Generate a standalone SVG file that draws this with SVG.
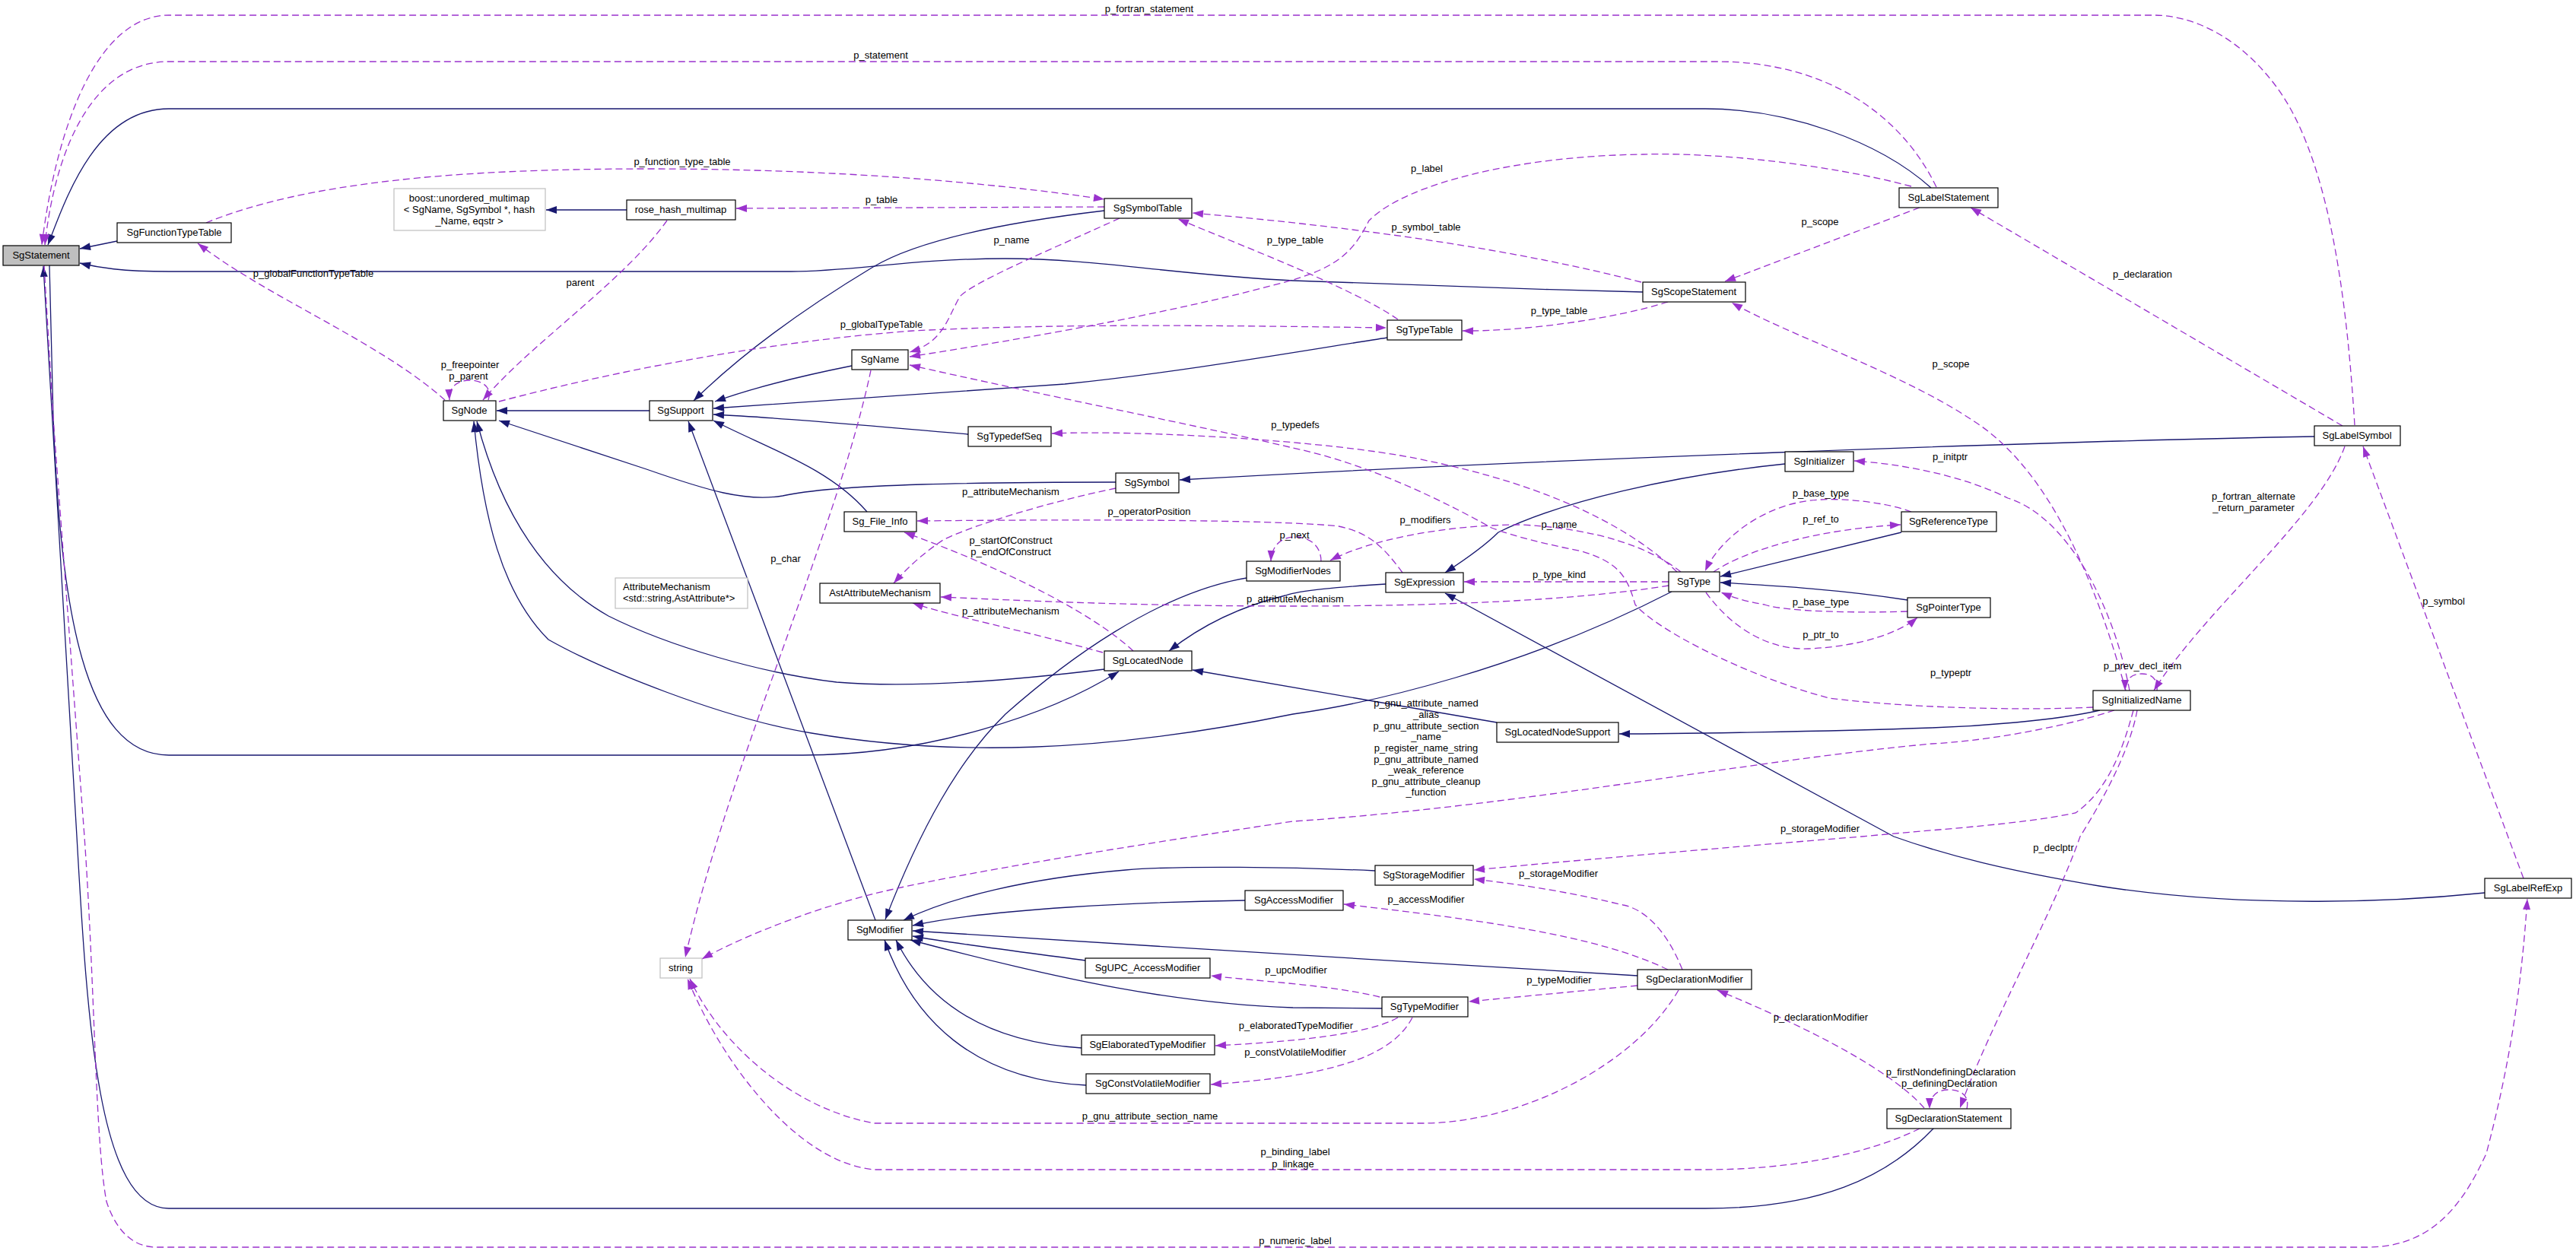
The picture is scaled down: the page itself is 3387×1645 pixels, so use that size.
<svg xmlns="http://www.w3.org/2000/svg" width="3387" height="1645" viewBox="0 0 3387 1645">
<style>
text{font-family:"Liberation Sans",Arial,Helvetica,sans-serif;font-size:13px;fill:#000}
.n rect{fill:#fff;stroke:#000;stroke-width:1.2}
.n.g rect{stroke:#bfbfbf}
.n.s rect{fill:#bfbfbf}
.n text,.l{text-anchor:middle}
.e{fill:none;stroke:#191970;stroke-width:1.3;marker-end:url(#ab)}
.d{fill:none;stroke:#9a32cd;stroke-width:1.3;stroke-dasharray:9,5;marker-end:url(#ap)}
</style>
<defs>
<marker id="ab" markerUnits="userSpaceOnUse" markerWidth="16" markerHeight="12" refX="14" refY="5" orient="auto" overflow="visible"><path d="M0,0 L14,5 L0,10 z" fill="#191970"/></marker>
<marker id="ap" markerUnits="userSpaceOnUse" markerWidth="16" markerHeight="12" refX="14" refY="5" orient="auto" overflow="visible"><path d="M0,0 L14,5 L0,10 z" fill="#9a32cd"/></marker>
</defs>
<rect width="3387" height="1645" fill="#fff"/>
<g id="connectors">
<path class="e" d="M154,317 L105,327"/>
<path class="e" d="M2539,247 C2470,185 2350,143 2242,143 L222,143 C130,143 90,250 63,322"/>
<path class="e" d="M2160,384 C2000,380 1820,374 1700,369 C1550,362 1440,340 1322,340 C1200,340 1120,357 1040,357 L222,357 C160,357 130,352 105,346"/>
<path class="e" d="M2543,1483 C2480,1550 2390,1589 2242,1589 L222,1589 C130,1589 115,1350 101,1100 L57,350"/>
<path class="e" d="M65,349 L70,550 C80,800 110,993 222,993 L1056,993 C1220,993 1380,940 1471,883"/>
<path class="e" d="M2198,778 C2000,880 1800,925 1700,939 C1450,990 1250,995 1067,964 C950,945 790,880 721,841 C660,780 635,680 623,554"/>
<path class="e" d="M1452,880 C1330,895 1200,905 1100,897 C1000,885 880,850 800,810 C720,765 660,680 627,554"/>
<path class="e" d="M1467,634 C1300,634 1100,636 1029,652 C980,660 930,645 850,617 L656,553"/>
<path class="e" d="M854,540 L653,540"/>
<path class="e" d="M1452,277 C1300,295 1200,320 1148,351 C1050,410 970,470 912,527"/>
<path class="e" d="M1120,481 C1050,495 990,510 940,528"/>
<path class="e" d="M1824,444 C1720,460 1550,490 1400,505 L938,537"/>
<path class="e" d="M1273,571 C1150,560 1000,548 938,545"/>
<path class="e" d="M1140,673 C1090,615 1010,590 938,553"/>
<path class="e" d="M1151,1210 L905,554"/>
<path class="e" d="M824,276 L718,276"/>
<path class="e" d="M3043,574 C2700,580 2000,605 1551,631"/>
<path class="e" d="M2347,610 C2200,625 2050,660 1970,700 C1950,720 1920,740 1900,753"/>
<path class="e" d="M3267,1174 C3150,1186 2950,1195 2760,1165 C2640,1145 2560,1125 2490,1100 L1900,780"/>
<path class="e" d="M2500,700 L2262,758"/>
<path class="e" d="M2508,789 C2420,775 2330,770 2262,766"/>
<path class="e" d="M2761,934 C2700,948 2600,955 2540,957 C2400,962 2200,965 2129,965"/>
<path class="e" d="M1968,950 L1568,881"/>
<path class="e" d="M1822,768 C1760,772 1710,776 1690,783 C1620,800 1570,830 1537,856"/>
<path class="e" d="M1639,760 C1520,780 1400,870 1322,939 C1260,1000 1210,1090 1164,1209"/>
<path class="e" d="M1808,1145 C1700,1140 1550,1138 1480,1144 C1350,1155 1250,1180 1188,1210"/>
<path class="e" d="M1637,1184 C1500,1186 1300,1195 1200,1217"/>
<path class="e" d="M2153,1283 C1900,1268 1500,1243 1200,1224"/>
<path class="e" d="M1427,1263 C1330,1250 1250,1240 1200,1231"/>
<path class="e" d="M1817,1326 L1700,1325 C1550,1320 1400,1290 1197,1236"/>
<path class="e" d="M1422,1378 C1300,1370 1220,1320 1178,1236"/>
<path class="e" d="M1428,1427 C1280,1420 1200,1340 1163,1236"/>
<path class="d" d="M3096,559 C3085,380 3060,200 2990,110 C2940,45 2880,20 2832,20 L222,20 C130,20 75,160 55,322"/>
<path class="d" d="M2546,246 C2500,150 2400,81 2258,81 L222,81 C120,81 72,200 59,322"/>
<path class="d" d="M58,349 L70,550 L111,1100 C125,1300 125,1500 140,1580 C155,1625 180,1640 206,1640 L3113,1640 C3200,1640 3240,1580 3269,1517 C3300,1400 3315,1300 3323,1182"/>
<path class="d" d="M271,293 C400,240 600,222 850,222 C1100,222 1300,240 1452,262"/>
<path class="d" d="M1452,272 L968,274"/>
<path class="d" d="M877,290 C820,370 700,450 635,526"/>
<path class="d" d="M585,526 C500,450 350,390 260,320"/>
<path class="d" d="M642,526 C648,508 632,500 618,500 C602,500 590,508 591,526"/>
<path class="d" d="M656,528 C800,490 1000,450 1200,435 C1400,425 1600,428 1823,431"/>
<path class="d" d="M1472,287 C1400,320 1280,370 1262,390 C1245,420 1240,450 1196,463"/>
<path class="d" d="M1838,420 C1780,380 1650,330 1549,288"/>
<path class="d" d="M2158,371 C2000,330 1800,300 1568,280"/>
<path class="d" d="M2513,245 C2400,215 2250,200 2160,203 C2000,205 1850,240 1800,290 C1780,330 1760,350 1700,368 C1550,410 1350,445 1196,469"/>
<path class="d" d="M2524,273 L2268,370"/>
<path class="d" d="M2193,397 C2120,420 2000,436 1923,435"/>
<path class="d" d="M2795,908 C2760,780 2700,620 2594,553 C2500,490 2350,440 2277,398"/>
<path class="d" d="M2800,908 C2780,800 2720,680 2640,655 C2580,625 2500,610 2438,606"/>
<path class="d" d="M3083,587 C3050,680 2900,800 2832,908"/>
<path class="d" d="M2836,908 C2838,892 2828,886 2816,886 C2802,886 2794,894 2794,908"/>
<path class="d" d="M2205,752 C2150,700 2050,640 1863,603 C1750,580 1500,565 1383,570"/>
<path class="d" d="M2752,930 C2650,935 2500,930 2405,918 C2300,890 2180,830 2150,795 C2140,760 2130,740 2080,725 C2030,715 1990,705 1961,694 C1900,660 1800,610 1700,589 C1600,565 1350,515 1196,480"/>
<path class="d" d="M2210,752 C2170,720 2100,695 2000,690 C1900,690 1800,710 1749,737"/>
<path class="d" d="M1737,738 C1737,718 1722,706 1703,706 C1686,706 1672,716 1671,738"/>
<path class="d" d="M1844,753 C1820,720 1800,700 1760,692 C1700,685 1500,682 1206,685"/>
<path class="d" d="M2194,765 L1925,765"/>
<path class="d" d="M2194,770 C2100,785 1950,797 1700,797 C1500,797 1350,790 1237,785"/>
<path class="d" d="M1467,642 C1380,660 1280,690 1240,710 C1210,730 1190,750 1175,767"/>
<path class="d" d="M1450,858 C1350,830 1250,810 1200,793"/>
<path class="d" d="M1490,856 C1430,800 1300,740 1189,700"/>
<path class="d" d="M1145,487 C1100,700 960,1000 901,1259"/>
<path class="d" d="M2780,934 C2700,960 2600,975 2540,978 C2300,1000 2000,1060 1700,1080 C1500,1110 1250,1150 1150,1175 C1050,1200 960,1240 923,1261"/>
<path class="d" d="M2805,934 C2790,990 2770,1040 2729,1069 C2650,1085 2550,1090 2448,1100 C2200,1120 2000,1138 1938,1144"/>
<path class="d" d="M2810,934 C2800,990 2760,1060 2735,1100 C2700,1200 2620,1340 2577,1457"/>
<path class="d" d="M2586,1458 C2590,1440 2578,1433 2562,1433 C2546,1433 2537,1442 2537,1458"/>
<path class="d" d="M2530,1457 C2480,1400 2350,1340 2258,1302"/>
<path class="d" d="M2212,1275 C2190,1220 2160,1195 2134,1190 C2050,1170 1990,1162 1938,1156"/>
<path class="d" d="M2193,1275 C2100,1230 1950,1210 1767,1189"/>
<path class="d" d="M2153,1296 L1931,1317"/>
<path class="d" d="M1814,1311 C1750,1295 1650,1290 1592,1283"/>
<path class="d" d="M1838,1338 C1800,1360 1700,1370 1598,1375"/>
<path class="d" d="M1857,1338 C1830,1390 1750,1415 1592,1426"/>
<path class="d" d="M2207,1302 C2150,1400 2000,1477 1870,1477 L1150,1477 C1050,1460 950,1380 907,1287"/>
<path class="d" d="M2524,1484 C2450,1520 2350,1538 2242,1538 L1150,1538 C1050,1530 950,1400 904,1287"/>
<path class="d" d="M2513,673 C2480,660 2420,655 2394,657 C2320,660 2260,710 2242,751"/>
<path class="d" d="M2253,752 C2300,720 2400,695 2499,690"/>
<path class="d" d="M2508,804 C2450,806 2350,805 2320,795 C2290,790 2275,784 2263,779"/>
<path class="d" d="M2243,779 C2280,830 2330,855 2378,853 C2450,850 2500,830 2521,812"/>
<path class="d" d="M3080,560 L2591,273"/>
<path class="d" d="M3318,1155 L3107,587"/>
</g>
<g id="labels">
<text class="l" x="1511" y="16">p_fortran_statement</text>
<text class="l" x="1158" y="77">p_statement</text>
<text class="l" x="897" y="217">p_function_type_table</text>
<text class="l" x="1159" y="267">p_table</text>
<text class="l" x="1330" y="320">p_name</text>
<text class="l" x="1703" y="320">p_type_table</text>
<text class="l" x="1876" y="226">p_label</text>
<text class="l" x="1875" y="303">p_symbol_table</text>
<text class="l" x="2393" y="296">p_scope</text>
<text class="l" x="2050" y="413">p_type_table</text>
<text class="l" x="1159" y="431">p_globalTypeTable</text>
<text class="l" x="412" y="364">p_globalFunctionTypeTable</text>
<text class="l" x="763" y="376">parent</text>
<text class="l" x="618" y="484">p_freepointer</text>
<text class="l" x="616" y="499">p_parent</text>
<text class="l" x="2817" y="365">p_declaration</text>
<text class="l" x="2565" y="483">p_scope</text>
<text class="l" x="1703" y="563">p_typedefs</text>
<text class="l" x="2564" y="605">p_initptr</text>
<text class="l" x="1329" y="651">p_attributeMechanism</text>
<text class="l" x="1511" y="677">p_operatorPosition</text>
<text class="l" x="2394" y="653">p_base_type</text>
<text class="l" x="2963" y="657">p_fortran_alternate</text>
<text class="l" x="2963" y="672">_return_parameter</text>
<text class="l" x="2394" y="687">p_ref_to</text>
<text class="l" x="1874" y="688">p_modifiers</text>
<text class="l" x="2050" y="694">p_name</text>
<text class="l" x="1702" y="708">p_next</text>
<text class="l" x="1329" y="715">p_startOfConstruct</text>
<text class="l" x="1329" y="730">p_endOfConstruct</text>
<text class="l" x="1033" y="739">p_char</text>
<text class="l" x="2050" y="760">p_type_kind</text>
<text class="l" x="1703" y="792">p_attributeMechanism</text>
<text class="l" x="2394" y="796">p_base_type</text>
<text class="l" x="3213" y="795">p_symbol</text>
<text class="l" x="1329" y="808">p_attributeMechanism</text>
<text class="l" x="2394" y="839">p_ptr_to</text>
<text class="l" x="2817" y="880">p_prev_decl_item</text>
<text class="l" x="2565" y="889">p_typeptr</text>
<text class="l" x="1875" y="929">p_gnu_attribute_named</text>
<text class="l" x="1875" y="944">_alias</text>
<text class="l" x="1875" y="959">p_gnu_attribute_section</text>
<text class="l" x="1875" y="973">_name</text>
<text class="l" x="1875" y="988">p_register_name_string</text>
<text class="l" x="1875" y="1003">p_gnu_attribute_named</text>
<text class="l" x="1875" y="1017">_weak_reference</text>
<text class="l" x="1875" y="1032">p_gnu_attribute_cleanup</text>
<text class="l" x="1875" y="1046">_function</text>
<text class="l" x="2393" y="1094">p_storageModifier</text>
<text class="l" x="2700" y="1119">p_declptr</text>
<text class="l" x="2049" y="1153">p_storageModifier</text>
<text class="l" x="1875" y="1187">p_accessModifier</text>
<text class="l" x="1704" y="1280">p_upcModifier</text>
<text class="l" x="2050" y="1293">p_typeModifier</text>
<text class="l" x="2394" y="1342">p_declarationModifier</text>
<text class="l" x="1704" y="1353">p_elaboratedTypeModifier</text>
<text class="l" x="1703" y="1388">p_constVolatileModifier</text>
<text class="l" x="2565" y="1414">p_firstNondefiningDeclaration</text>
<text class="l" x="2563" y="1429">p_definingDeclaration</text>
<text class="l" x="1512" y="1472">p_gnu_attribute_section_name</text>
<text class="l" x="1703" y="1519">p_binding_label</text>
<text class="l" x="1700" y="1535">p_linkage</text>
<text class="l" x="1703" y="1636">p_numeric_label</text>
</g>
<g id="SgStatement" class="n s"><rect x="4" y="323" width="100" height="26"/><text x="54" y="340">SgStatement</text></g>
<g id="SgFunctionTypeTable" class="n"><rect x="154" y="293" width="150" height="26"/><text x="229" y="310">SgFunctionTypeTable</text></g>
<g id="boost_multimap" class="n g"><rect x="518" y="248" width="199" height="55"/><text x="617" y="265">boost::unordered_multimap</text><text x="617" y="280">&lt; SgName, SgSymbol *, hash</text><text x="617" y="295">_Name, eqstr &gt;</text></g>
<g id="rose_hash_multimap" class="n"><rect x="824" y="263" width="143" height="26"/><text x="895" y="280">rose_hash_multimap</text></g>
<g id="SgNode" class="n"><rect x="583" y="527" width="69" height="26"/><text x="617" y="544">SgNode</text></g>
<g id="SgSupport" class="n"><rect x="854" y="527" width="83" height="26"/><text x="895" y="544">SgSupport</text></g>
<g id="SgName" class="n"><rect x="1120" y="460" width="74" height="26"/><text x="1157" y="477">SgName</text></g>
<g id="SgSymbolTable" class="n"><rect x="1452" y="261" width="115" height="26"/><text x="1509" y="278">SgSymbolTable</text></g>
<g id="SgTypeTable" class="n"><rect x="1824" y="421" width="98" height="26"/><text x="1873" y="438">SgTypeTable</text></g>
<g id="SgScopeStatement" class="n"><rect x="2160" y="371" width="135" height="26"/><text x="2227" y="388">SgScopeStatement</text></g>
<g id="SgLabelStatement" class="n"><rect x="2497" y="247" width="130" height="26"/><text x="2562" y="264">SgLabelStatement</text></g>
<g id="SgTypedefSeq" class="n"><rect x="1273" y="561" width="109" height="26"/><text x="1327" y="578">SgTypedefSeq</text></g>
<g id="SgSymbol" class="n"><rect x="1467" y="622" width="83" height="26"/><text x="1508" y="639">SgSymbol</text></g>
<g id="Sg_File_Info" class="n"><rect x="1110" y="673" width="95" height="26"/><text x="1157" y="690">Sg_File_Info</text></g>
<g id="AttributeMechanism" class="n g"><rect x="809" y="760" width="174" height="40"/><text x="819" y="776" style="text-anchor:start">AttributeMechanism</text><text x="819" y="791" style="text-anchor:start">&lt;std::string,AstAttribute*&gt;</text></g>
<g id="AstAttributeMechanism" class="n"><rect x="1078" y="767" width="158" height="26"/><text x="1157" y="784">AstAttributeMechanism</text></g>
<g id="SgLocatedNode" class="n"><rect x="1452" y="856" width="115" height="26"/><text x="1509" y="873">SgLocatedNode</text></g>
<g id="SgModifierNodes" class="n"><rect x="1639" y="738" width="123" height="26"/><text x="1700" y="755">SgModifierNodes</text></g>
<g id="SgExpression" class="n"><rect x="1822" y="753" width="102" height="26"/><text x="1873" y="770">SgExpression</text></g>
<g id="SgType" class="n"><rect x="2194" y="752" width="67" height="26"/><text x="2227" y="769">SgType</text></g>
<g id="SgInitializer" class="n"><rect x="2347" y="594" width="90" height="26"/><text x="2392" y="611">SgInitializer</text></g>
<g id="SgReferenceType" class="n"><rect x="2500" y="673" width="125" height="26"/><text x="2562" y="690">SgReferenceType</text></g>
<g id="SgPointerType" class="n"><rect x="2508" y="786" width="109" height="26"/><text x="2562" y="803">SgPointerType</text></g>
<g id="SgLocatedNodeSupport" class="n"><rect x="1968" y="950" width="160" height="26"/><text x="2048" y="967">SgLocatedNodeSupport</text></g>
<g id="SgInitializedName" class="n"><rect x="2752" y="908" width="128" height="26"/><text x="2816" y="925">SgInitializedName</text></g>
<g id="SgLabelSymbol" class="n"><rect x="3043" y="560" width="113" height="26"/><text x="3099" y="577">SgLabelSymbol</text></g>
<g id="string" class="n g"><rect x="868" y="1260" width="55" height="26"/><text x="895" y="1277">string</text></g>
<g id="SgModifier" class="n"><rect x="1115" y="1210" width="84" height="26"/><text x="1157" y="1227">SgModifier</text></g>
<g id="SgStorageModifier" class="n"><rect x="1808" y="1138" width="129" height="26"/><text x="1872" y="1155">SgStorageModifier</text></g>
<g id="SgAccessModifier" class="n"><rect x="1637" y="1171" width="129" height="26"/><text x="1701" y="1188">SgAccessModifier</text></g>
<g id="SgUPC_AccessModifier" class="n"><rect x="1427" y="1260" width="164" height="26"/><text x="1509" y="1277">SgUPC_AccessModifier</text></g>
<g id="SgTypeModifier" class="n"><rect x="1817" y="1311" width="113" height="26"/><text x="1873" y="1328">SgTypeModifier</text></g>
<g id="SgElaboratedTypeModifier" class="n"><rect x="1422" y="1361" width="175" height="26"/><text x="1509" y="1378">SgElaboratedTypeModifier</text></g>
<g id="SgConstVolatileModifier" class="n"><rect x="1428" y="1412" width="163" height="26"/><text x="1509" y="1429">SgConstVolatileModifier</text></g>
<g id="SgDeclarationModifier" class="n"><rect x="2153" y="1275" width="150" height="26"/><text x="2228" y="1292">SgDeclarationModifier</text></g>
<g id="SgDeclarationStatement" class="n"><rect x="2481" y="1458" width="163" height="26"/><text x="2562" y="1475">SgDeclarationStatement</text></g>
<g id="SgLabelRefExp" class="n"><rect x="3267" y="1155" width="114" height="26"/><text x="3324" y="1172">SgLabelRefExp</text></g>
</svg>
